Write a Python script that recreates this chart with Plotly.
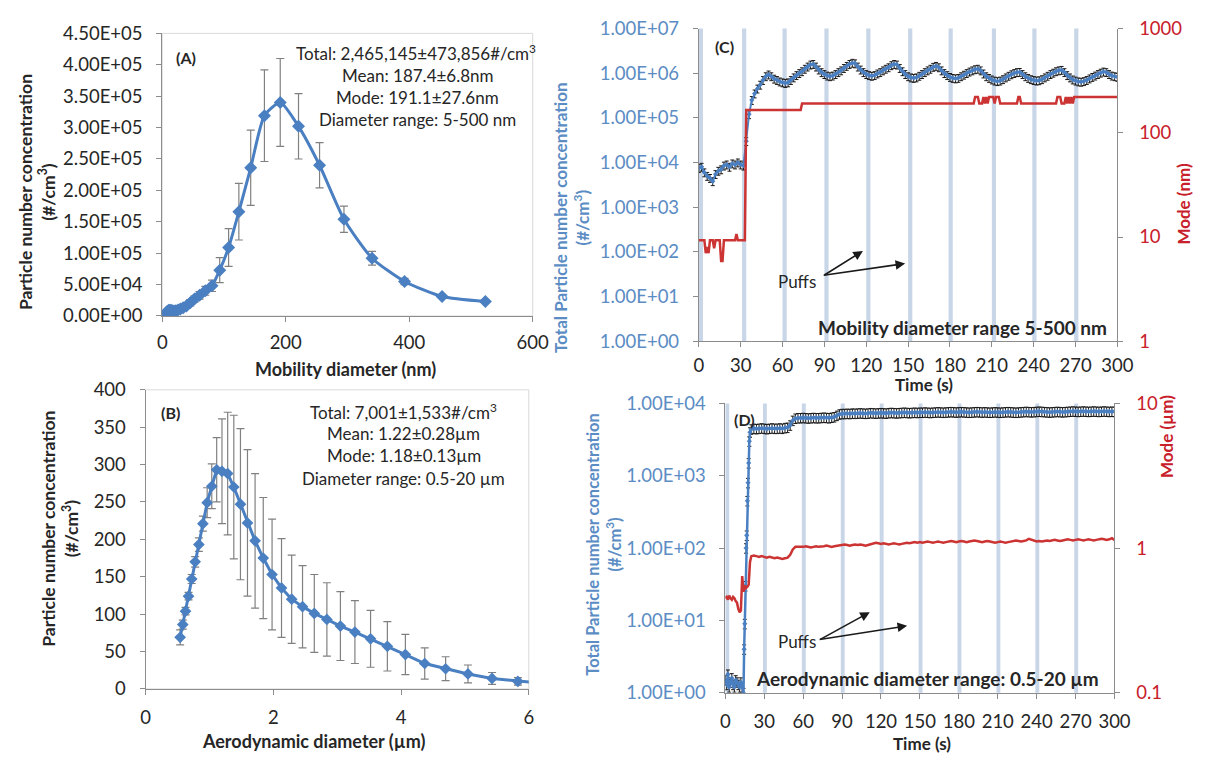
import plotly.graph_objects as go

# ---------------- Panel A: mobility size distribution ----------------
mob_d = [5.2, 6.0, 6.9, 8.0, 9.3, 10.7, 12.4, 14.3, 16.5, 19.1, 22.0, 25.5, 29.4, 33.9, 39.2, 45.3,
         52.3, 60.4, 69.8, 80.6, 93.1, 107.5, 124.1, 143.3, 165.5, 191.1, 220.7, 254.8, 294.3,
         339.8, 392.4, 453.2, 523.3]
mob_n = [2e3, 4e3, 6e3, 7e3, 8e3, 9e3, 9e3, 9e3, 8.5e3, 8e3, 8.5e3, 9.5e3, 11e3, 13e3, 16e3, 21e3,
         27e3, 33e3, 40e3, 48e3, 73e3, 109e3, 166e3, 236e3, 319e3, 340e3, 302e3, 240e3, 154e3,
         92e3, 55e3, 31e3, 23e3]
mob_err = [1e3, 1.5e3, 2e3, 2e3, 2e3, 2.5e3, 2.5e3, 2.5e3, 2.5e3, 2.5e3, 2.5e3, 3e3, 3e3, 3.5e3, 4e3, 5e3,
           5e3, 6e3, 7e3, 9e3, 2e4, 3e4, 4.5e4, 6e4, 7.3e4, 7e4, 5.2e4, 3.6e4, 2.1e4,
           1.1e4, 5e3, 3e3, 2e3]
a_ytick_vals = [0, 5e4, 1e5, 1.5e5, 2e5, 2.5e5, 3e5, 3.5e5, 4e5, 4.5e5]
a_ytick_text = ["0.00E+00", "5.00E+04", "1.00E+05", "1.50E+05", "2.00E+05", "2.50E+05",
                "3.00E+05", "3.50E+05", "4.00E+05", "4.50E+05"]
a_xtick_vals = [0, 200, 400, 600]

# ---------------- Panel B: aerodynamic size distribution ----------------
aero_d = [0.542, 0.583, 0.626, 0.673, 0.723, 0.777, 0.835, 0.898, 0.965, 1.037, 1.114, 1.197, 1.286,
          1.382, 1.486, 1.596, 1.715, 1.843, 1.981, 2.129, 2.288, 2.458, 2.642, 2.839, 3.051, 3.278,
          3.523, 3.786, 4.068, 4.371, 4.698, 5.048, 5.425, 5.829, 6.264]
aero_n = [69, 86, 104, 124, 147, 170, 193, 221, 249, 271, 293, 291, 288, 270, 247, 222, 198, 175, 153,
          135, 120, 110, 101, 93, 84, 76, 67, 57, 46, 34, 27, 20, 14, 10, 7]
aero_err = [10, 6, 5, 5, 6, 7, 9, 10, 20, 30, 43, 70, 82, 96, 101, 98, 90, 81, 74, 66, 59, 55, 52, 49,
            46, 42, 38, 33, 27, 21, 16, 12, 8, 5, 3]
b_ytick_vals = [0, 50, 100, 150, 200, 250, 300, 350, 400]
b_xtick_vals = [0, 2, 4, 6]

# ---------------- Panel C: SMPS time series ----------------
time_c = list(range(0, 301, 2))
conc_c = [7.5e3, 8e3, 6e3, 5e3, 4.5e3, 3.8e3, 5.5e3, 6.5e3, 7e3, 8.5e3,
          9e3, 8e3, 9.5e3, 9e3, 1e4, 9e3, 8.5e3, 3e4, 1.2e5, 2.5e5,
          3.5e5, 4.5e5, 5.5e5, 7e5, 8.5e5, 9.3e5, 8.5e5, 7.5e5, 7e5, 6.5e5,
          6.2e5, 6e5, 6.2e5, 7e5, 8e5, 9e5, 1e6, 1.1e6, 1.25e6, 1.4e6,
          1.55e6, 1.6e6, 1.4e6, 1.2e6, 1.05e6, 9.5e5, 8.8e5, 8.5e5, 8.8e5, 9.5e5,
          1.05e6, 1.15e6, 1.3e6, 1.45e6, 1.6e6, 1.7e6, 1.65e6, 1.4e6, 1.2e6, 1.05e6,
          9.5e5, 9e5, 8.7e5, 9e5, 9.8e5, 1.05e6, 1.15e6, 1.25e6, 1.35e6, 1.5e6,
          1.6e6, 1.55e6, 1.3e6, 1.1e6, 9.5e5, 8.5e5, 8e5, 7.8e5, 8e5, 8.7e5,
          9.5e5, 1.05e6, 1.15e6, 1.25e6, 1.38e6, 1.45e6, 1.35e6, 1.15e6, 1e6, 9e5,
          8.2e5, 7.8e5, 7.6e5, 7.8e5, 8.5e5, 9.2e5, 1e6, 1.08e6, 1.15e6, 1.22e6,
          1.25e6, 1.15e6, 9.8e5, 8.5e5, 7.8e5, 7.2e5, 6.8e5, 6.6e5, 6.8e5, 7.3e5,
          8e5, 8.7e5, 9.4e5, 1e6, 1.05e6, 1.06e6, 9.5e5, 8.5e5, 7.8e5, 7.3e5,
          7e5, 6.8e5, 6.9e5, 7.3e5, 8e5, 8.7e5, 9.5e5, 1.02e6, 1.1e6, 1.15e6,
          1.18e6, 1.05e6, 9e5, 8e5, 7.2e5, 6.8e5, 6.5e5, 6.4e5, 6.6e5, 7e5,
          7.6e5, 8.2e5, 8.8e5, 9.5e5, 1.02e6, 1.08e6, 1.05e6, 9.5e5, 8.8e5, 8.5e5,
          8.2e5]
mode_c_t = [0, 4, 5, 6, 7, 8, 10, 11, 12, 15, 16, 17, 18, 26, 27, 28, 33, 34, 73, 74,
            197, 198, 200, 201, 203, 204, 205, 206, 207, 208, 211, 212, 213, 215, 216,
            228, 229, 230, 231, 256, 257, 259, 260, 262, 263, 264, 265, 266, 267, 268, 269, 300]
mode_c = [9.3, 9.3, 7.0, 8.0, 7.0, 9.3, 9.3, 7.8, 9.3, 9.3, 5.9, 5.9, 9.3, 9.3, 10.7, 9.3, 9.3, 165.5, 165.5, 191.1,
          191.1, 220.7, 220.7, 191.1, 191.1, 220.7, 191.1, 220.7, 191.1, 220.7, 220.7, 191.1, 220.7, 220.7, 191.1,
          191.1, 220.7, 220.7, 191.1, 191.1, 220.7, 220.7, 191.1, 191.1, 220.7, 191.1, 220.7, 191.1, 220.7, 191.1, 220.7, 220.7]
puffs_c = [0, 31, 60, 90, 120, 150, 179, 210, 239, 269]
c_ytick_vals = [1, 10, 100, 1e3, 1e4, 1e5, 1e6, 1e7]
c_ytick_text = ["1.00E+00", "1.00E+01", "1.00E+02", "1.00E+03", "1.00E+04", "1.00E+05", "1.00E+06", "1.00E+07"]
c_y2tick_vals = [1, 10, 100, 1000]
c_y2tick_text = ["1", "10", "100", "1000"]

# ---------------- Panel D: APS time series ----------------
d_t_early = [0, 1, 2, 3, 4, 5, 6, 7, 8, 9, 10, 11, 12, 13, 14, 14.5, 15, 15.5, 16, 16.5, 17, 17.5, 18, 18.5, 19]
d_n_early = [1.5, 1.3, 1.8, 1.2, 1.4, 1.6, 1.3, 1.2, 1.5, 1.4, 1.3, 1.2, 1.4, 1.2, 1.0, 4, 9, 30, 100, 150,
             450, 800, 1500, 3000, 4000]
d_t_late = list(range(20, 301, 2))
d_n_late = [4400, 4500, 4450, 4500, 4550, 4500, 4450, 4500, 4550, 4500, 4500, 4550, 4500, 4600, 4650,
            5000, 5800, 6200, 6300,
            6300, 6350, 6300, 6250, 6300, 6350, 6300, 6300, 6350, 6400, 6350, 6300, 6400, 6500,
            6800, 7100, 7200,
            7200, 7250, 7200, 7300, 7250, 7300, 7350, 7300, 7250, 7300, 7400, 7350, 7300, 7350, 7400,
            7350, 7300, 7400, 7450, 7400, 7350, 7400, 7450, 7500, 7450, 7400, 7450, 7500, 7450, 7500,
            7500, 7550, 7500, 7450, 7500, 7550, 7600, 7550, 7500, 7550,
            7600, 7650, 7600, 7550, 7600, 7650, 7600, 7550, 7500, 7550,
            7600, 7650, 7600, 7550, 7600, 7550, 7500, 7550, 7600, 7550,
            7500, 7550, 7600, 7650, 7600, 7550, 7500, 7550, 7600, 7650,
            7700, 7650, 7600, 7650, 7700, 7750, 7700, 7650, 7600, 7550,
            7600, 7650, 7700, 7650, 7600, 7650, 7700, 7750, 7800, 7750,
            7700, 7750, 7800, 7750, 7700, 7750, 7800, 7750, 7700, 7750,
            7800, 7750, 7700, 7750, 7700]
d_mode_t_early = [0, 1, 2, 3, 4, 5, 6, 7, 8, 9, 10, 11, 12, 13, 14, 15, 16, 17, 18, 19]
d_mode_early = [0.45, 0.46, 0.44, 0.47, 0.45, 0.44, 0.46, 0.45, 0.43, 0.42, 0.38, 0.36, 0.37, 0.64, 0.50,
                0.55, 0.53, 0.54, 0.56, 0.80]
d_mode_late = [0.88, 0.89, 0.88, 0.87, 0.88, 0.87, 0.86, 0.87, 0.86, 0.85, 0.86, 0.85, 0.84, 0.85, 0.86,
               0.90, 0.98, 1.02, 1.02,
               1.01, 1.02, 1.03, 1.02, 1.01, 1.02, 1.03, 1.02, 1.02, 1.03, 1.04, 1.03, 1.02, 1.03, 1.04, 1.05,
               1.05, 1.06, 1.05, 1.04, 1.05, 1.06, 1.05, 1.06, 1.05, 1.04, 1.05, 1.06, 1.08, 1.09, 1.08, 1.07,
               1.08, 1.07, 1.06, 1.07, 1.08, 1.07, 1.06, 1.07, 1.08, 1.09, 1.08, 1.09, 1.10, 1.09, 1.10,
               1.09, 1.10, 1.11, 1.10, 1.09, 1.10, 1.11, 1.10, 1.09, 1.10,
               1.11, 1.12, 1.11, 1.10, 1.11, 1.12, 1.11, 1.10, 1.11, 1.12,
               1.13, 1.12, 1.11, 1.10, 1.11, 1.12, 1.11, 1.10, 1.09, 1.10,
               1.11, 1.10, 1.09, 1.10, 1.11, 1.12, 1.13, 1.12, 1.11, 1.12,
               1.13, 1.16, 1.14, 1.12, 1.11, 1.12, 1.11, 1.12, 1.13, 1.12,
               1.13, 1.14, 1.13, 1.12, 1.13, 1.14, 1.15, 1.14, 1.13, 1.14,
               1.15, 1.14, 1.13, 1.14, 1.15, 1.14, 1.13, 1.14, 1.15, 1.16,
               1.15, 1.14, 1.15, 1.17, 1.14]
puffs_d = [0, 29, 59, 89, 119, 149, 179, 209, 239, 269]
d_ytick_vals = [1, 10, 100, 1e3, 1e4]
d_ytick_text = ["1.00E+00", "1.00E+01", "1.00E+02", "1.00E+03", "1.00E+04"]
d_y2tick_vals = [0.1, 1, 10]
d_y2tick_text = ["0.1", "1", "10"]
time_ticks = [0, 30, 60, 90, 120, 150, 180, 210, 240, 270, 300]

# ---------------- styling ----------------
FONT = "Lato"
BLUE = "#4a7fc1"
BLUE_TXT = "#5b8cc4"
RED = "#cc3333"
RED_TXT = "#c8202a"
AXIS = "#8c8c8c"
TXT = "#262626"
TICKFS = 18.5

W, H = 1215, 764


def px(x):
    return x / W


def py(y):
    return 1 - y / H


fig = go.Figure()

fig.add_trace(go.Scatter(
    x=mob_d, y=mob_n, mode="lines+markers", xaxis="x", yaxis="y",
    line=dict(color=BLUE, width=3, shape="spline", smoothing=0.6),
    marker=dict(symbol="diamond", size=10, color=BLUE),
    error_y=dict(type="data", array=mob_err, color="#808080", thickness=1.2, width=4),
))
fig.add_trace(go.Scatter(
    x=aero_d, y=aero_n, mode="lines+markers", xaxis="x2", yaxis="y2",
    line=dict(color=BLUE, width=3),
    marker=dict(symbol="diamond", size=9, color=BLUE),
    error_y=dict(type="data", array=aero_err, color="#808080", thickness=1.2, width=4),
))
fig.add_trace(go.Scatter(
    x=time_c, y=conc_c, mode="lines+markers", xaxis="x3", yaxis="y3",
    line=dict(color=BLUE, width=2),
    marker=dict(symbol="diamond", size=4, color=BLUE),
    error_y=dict(type="percent", value=20, color="#1a1a1a", thickness=1, width=2),
))
fig.add_trace(go.Scatter(
    x=mode_c_t, y=mode_c, mode="lines", xaxis="x3", yaxis="y4",
    line=dict(color=RED, width=2.5),
))
fig.add_trace(go.Scatter(
    x=d_t_early + d_t_late, y=d_n_early + d_n_late, mode="lines+markers", xaxis="x4", yaxis="y5",
    line=dict(color=BLUE, width=2.5),
    marker=dict(symbol="diamond", size=4, color=BLUE),
    error_y=dict(type="percent", value=15, color="#1a1a1a", thickness=1, width=2),
))
fig.add_trace(go.Scatter(
    x=d_mode_t_early + d_t_late, y=d_mode_early + d_mode_late, mode="lines", xaxis="x4", yaxis="y6",
    line=dict(color=RED, width=2.5),
))

common = dict(showgrid=False, zeroline=False, showline=True, linecolor=AXIS, linewidth=1,
              ticks="outside", ticklen=5, tickcolor=AXIS, tickfont=dict(family=FONT, size=TICKFS, color=TXT))

layout = dict(
    width=W, height=H, margin=dict(l=0, r=0, t=0, b=0),
    paper_bgcolor="white", plot_bgcolor="white", showlegend=False,
    font=dict(family=FONT, color=TXT),
    xaxis=dict(common, domain=[px(160), px(537)], anchor="y", range=[0, 600], tickvals=a_xtick_vals,
               ticklabelstandoff=5),
    yaxis=dict(common, domain=[py(313), py(22)], anchor="x", range=[0, 4.5e5], tickvals=a_ytick_vals,
               ticktext=a_ytick_text, ticklabelstandoff=10),
    xaxis2=dict(common, domain=[px(143), px(533)], anchor="y2", range=[0, 6], tickvals=b_xtick_vals,
                ticklabelstandoff=7),
    yaxis2=dict(common, domain=[py(697), py(389)], anchor="x2", range=[0, 400], tickvals=b_ytick_vals,
                ticklabelstandoff=10),
    xaxis3=dict(common, domain=[px(706), px(1132)], anchor="y3", range=[0, 300], tickvals=time_ticks,
                ticklabelstandoff=3),
    yaxis3=dict(common, domain=[py(339), py(17)], anchor="x3", type="log", range=[0, 7],
                tickvals=c_ytick_vals, ticktext=c_ytick_text, ticklabelstandoff=10,
                tickfont=dict(family=FONT, size=TICKFS, color=BLUE_TXT)),
    yaxis4=dict(common, overlaying="y3", anchor="x3", side="right", type="log", range=[0, 3],
                tickvals=c_y2tick_vals, ticktext=c_y2tick_text, ticklabelstandoff=12,
                tickfont=dict(family=FONT, size=TICKFS, color=RED_TXT)),
    xaxis4=dict(common, domain=[px(733), px(1129)], anchor="y5", range=[0, 300], tickvals=time_ticks,
                ticklabelstandoff=7),
    yaxis5=dict(common, domain=[py(701), py(403)], anchor="x4", type="log", range=[0, 4],
                tickvals=d_ytick_vals, ticktext=d_ytick_text, ticklabelstandoff=10,
                tickfont=dict(family=FONT, size=TICKFS, color=BLUE_TXT)),
    yaxis6=dict(common, overlaying="y5", anchor="x4", side="right", type="log", range=[-1, 1],
                tickvals=d_y2tick_vals, ticktext=d_y2tick_text, ticklabelstandoff=12,
                tickfont=dict(family=FONT, size=TICKFS, color=RED_TXT)),
)
fig.update_layout(**layout)

shapes = []
# light frame around panels A and B
for xr, yr in (("x", "y"), ("x2", "y2")):
    shapes.append(dict(type="rect", xref=xr + " domain", yref=yr + " domain", x0=0, x1=1, y0=0, y1=1,
                       line=dict(color="#d9d9d9", width=1), layer="below"))
# puff bands
for t in puffs_c:
    shapes.append(dict(type="rect", xref="x3", yref="y3 domain", x0=t, x1=t + 3, y0=0, y1=1,
                       fillcolor="#c8d6e8", line=dict(width=0), layer="below"))
for t in puffs_d:
    shapes.append(dict(type="rect", xref="x4", yref="y5 domain", x0=t, x1=t + 3, y0=0, y1=1,
                       fillcolor="#c8d6e8", line=dict(width=0), layer="below"))
fig.update_layout(shapes=shapes)

ann = []


def text(x, y, s, size=16, bold=False, color=TXT, angle=0, xanchor="center"):
    if bold:
        s = "<b>" + s + "</b>"
    ann.append(dict(x=px(x), y=py(y), xref="paper", yref="paper", text=s, showarrow=False,
                    font=dict(family=FONT, size=size, color=color), textangle=angle,
                    xanchor=xanchor, yanchor="middle"))


# Panel A
text(184, 47, "(A)", 16, True)
text(418, 42, "Total: 2,465,145±473,856#/cm<sup>3</sup>", 17)
text(420, 65, "Mean: 187.4±6.8nm", 17)
text(420, 88, "Mode: 191.1±27.6nm", 17)
text(420, 111, "Diameter range: 5-500 nm", 17)
text(346, 368, "Mobility diameter (nm)", 18, True)
text(32, 185, "Particle number concentration<br>(#/cm<sup>3</sup>)", 17.5, True, angle=-90)
# Panel B
text(168, 412, "(B)", 16, True)
text(406, 411, "Total: 7,001±1,533#/cm<sup>3</sup>", 17)
text(406, 434, "Mean: 1.22±0.28µm", 17)
text(406, 457, "Mode: 1.18±0.13µm", 17)
text(406, 480, "Diameter range: 0.5-20 µm", 17)
text(314, 751, "Aerodynamic diameter (µm)", 18, True)
text(56, 532, "Particle number concentration<br>(#/cm<sup>3</sup>)", 17.5, True, angle=-90)
# Panel C
text(732, 36, "(C)", 16, True)
text(974, 325, "Mobility diameter range 5-500 nm", 19, True)
text(935, 384, "Time (s)", 17, True)
text(577, 212, "Total Particle number concentration<br>(#/cm<sup>3</sup>)", 17, True, BLUE_TXT, -90)
text(1199, 197, "Mode (nm)", 17, True, RED_TXT, -90)
text(806, 277, "Puffs", 17)
# Panel D
text(752, 420, "(D)", 16, True)
text(939, 686, "Aerodynamic diameter range: 0.5-20 µm", 19, True)
text(933, 753, "Time (s)", 17, True)
text(609, 548, "Total Particle number concentration<br>(#/cm<sup>3</sup>)", 16.5, True, BLUE_TXT, -90)
text(1182, 437, "Mode (µm)", 17, True, RED_TXT, -90)
text(806, 648, "Puffs", 17)

# arrows (tip positions, tail offsets in px)
for tip, tail in (((873, 246), (833, 271)), ((916, 259), (833, 271)),
                  ((880, 618), (829, 646)), ((918, 632), (829, 646))):
    ann.append(dict(x=px(tip[0]), y=py(tip[1]), xref="paper", yref="paper", text="", showarrow=True,
                    ax=tail[0] - tip[0], ay=tail[1] - tip[1], arrowhead=2, arrowsize=1.2,
                    arrowwidth=1.6, arrowcolor="#1a1a1a"))

fig.update_layout(annotations=ann)
fig.write_html("out.html")
